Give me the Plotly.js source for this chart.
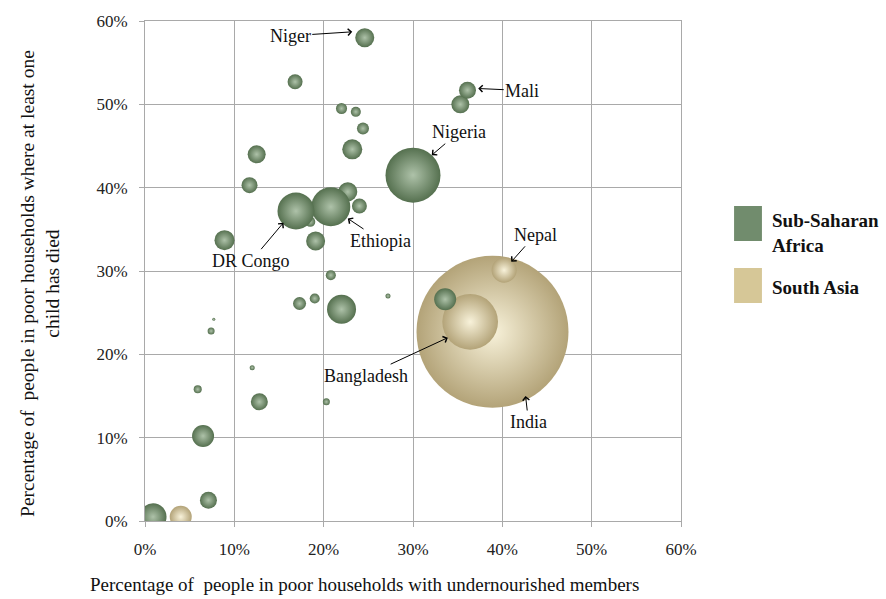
<!DOCTYPE html>
<html>
<head>
<meta charset="utf-8">
<script src="https://cdn.plot.ly/plotly-3.0.1.min.js"></script>
<style>html,body{margin:0;padding:0;background:#fff;}#chart{width:886px;height:599px;}</style>
</head>
<body>
<div id="chart"></div>
<script>
// Sub-Saharan Africa: % in poor households with undernourished members (x), % where at least one child has died (y), bubble size (poor population, est.)
const africaX    = [18.5, 22.7, 30.0, 20.8, 16.9, 22.0, 0.9, 6.5, 33.6, 23.2, 8.9, 24.6, 19.1, 12.5, 35.3, 36.1, 12.8, 7.1, 11.7, 16.8, 24.0, 17.3, 24.4, 22.0, 23.6, 20.8, 19.0, 5.9, 7.4, 20.3, 12.0, 27.2, 7.7];
const africaY    = [35.9, 39.5, 41.5, 37.7, 37.2, 25.4, 0.5, 10.2, 26.6, 44.6, 33.7, 58.0, 33.6, 44.0, 50.0, 51.7, 14.3, 2.5, 40.3, 52.7, 37.8, 26.1, 47.1, 49.5, 49.1, 29.5, 26.7, 15.8, 22.8, 14.3, 18.4, 27.0, 24.2];
const africaSize = [2.8, 10.0, 83.8, 42.1, 37.9, 23.3, 20.2, 13.4, 13.4, 11.1, 11.1, 10.0, 10.0, 9.0, 9.0, 8.0, 8.0, 8.0, 7.1, 6.2, 6.2, 4.7, 4.0, 3.4, 2.8, 2.8, 2.8, 1.8, 1.36, 1.36, 0.7, 0.7, 0.25];

// South Asia
const asiaX    = [38.9, 36.4, 40.2, 4.0];
const asiaY    = [22.7, 23.9, 30.1, 0.5];
const asiaSize = [640, 86, 17.3, 13.4];

// Country labels
const labelNames = ["Niger", "Mali", "Nigeria", "Ethiopia", "DR Congo", "Nepal", "Bangladesh", "India"];
const labelX  = [23.2, 37.3, 32.1, 22.7, 15.5, 41.0, 33.9, 42.6];
const labelY  = [58.7, 51.9, 43.9, 36.3, 35.8, 31.1, 22.0, 15.0];
const labelAX = [-62, 44, 27, 33, -32, 24, -82, 3];
const labelAY = [4, 2, -23, 22, 38, -27, 38, 26];

const tickVals = [0, 10, 20, 30, 40, 50, 60];
const tickText = ["0%", "10%", "20%", "30%", "40%", "50%", "60%"];

const xTitle = "Percentage of  people in poor households with undernourished members";
const yTitle = "Percentage of  people in poor households where at least one<br>child has died";

const seriesNames = ["Sub-Saharan<br>Africa", "South Asia"];
const seriesColors = ["#718c6d", "#d6c797"];

const maxD = 152;
const sizeref = 2 * Math.max(...asiaSize) / (maxD * maxD);
const FONT = "Liberation Serif, DejaVu Serif, serif";

const traces = [
  {
    type: "scatter", mode: "markers", name: "South Asia",
    x: asiaX, y: asiaY, hoverinfo: "x+y",
    marker: {size: asiaSize, sizemode: "area", sizeref: sizeref,
             color: "#b3a378", gradient: {type: "radial", color: "#f8f2da"},
             line: {width: 0}, opacity: 1},
    showlegend: false
  },
  {
    type: "scatter", mode: "markers", name: "Sub-Saharan Africa",
    x: africaX, y: africaY, hoverinfo: "x+y",
    marker: {size: africaSize, sizemode: "area", sizeref: sizeref,
             color: "#55704f", gradient: {type: "radial", color: "#aec2a9"},
             line: {width: 0}, opacity: 1},
    showlegend: false
  }
];

const annotations = labelNames.map((n, i) => ({
  x: labelX[i], y: labelY[i], xref: "x", yref: "y",
  text: n, showarrow: true, ax: labelAX[i], ay: labelAY[i],
  arrowhead: 4, arrowsize: 1.3, arrowwidth: 1, arrowcolor: "#000",
  font: {family: FONT, size: 18, color: "#111"}
}));

// axis titles (placed as in the reference, off-centre)
annotations.push({xref: "paper", yref: "paper", x: 0.41, y: -0.127,
  xanchor: "center", yanchor: "middle", showarrow: false, text: xTitle,
  font: {family: FONT, size: 19, color: "#111"}});
annotations.push({xref: "paper", yref: "paper", x: -0.196, y: 0.476,
  xanchor: "center", yanchor: "middle", showarrow: false, text: yTitle, textangle: -90,
  font: {family: FONT, size: 19.5, color: "#111"}});

// legend (drawn as paper shapes + text)
const legY = [[0.63, 0.56], [0.506, 0.436]];
const legTextY = [0.576, 0.468];
const shapes = [];
seriesNames.forEach((n, i) => {
  shapes.push({type: "rect", xref: "paper", yref: "paper",
    x0: 1.099, x1: 1.151, y0: legY[i][1], y1: legY[i][0],
    fillcolor: seriesColors[i], line: {width: 0}});
  annotations.push({xref: "paper", yref: "paper", x: 1.166, y: legTextY[i],
    xanchor: "left", yanchor: "middle", align: "left", showarrow: false,
    text: "<b>" + n + "</b>", font: {family: FONT, size: 19, color: "#111"}});
});

const axisCommon = {
  range: [0, 60], tickvals: tickVals, ticktext: tickText,
  showgrid: true, gridcolor: "#a9a9a9", gridwidth: 1,
  showline: true, linecolor: "#a9a9a9", linewidth: 1, mirror: true,
  ticks: "outside", ticklen: 5, tickcolor: "#a9a9a9",
  zeroline: false, fixedrange: true, ticklabelstandoff: 8,
  tickfont: {family: FONT, size: 17, color: "#222"}
};

const layout = {
  width: 886, height: 599,
  margin: {l: 145, r: 205, t: 21, b: 78},
  paper_bgcolor: "#fff", plot_bgcolor: "#fff",
  xaxis: Object.assign({}, axisCommon),
  yaxis: Object.assign({}, axisCommon),
  annotations: annotations,
  shapes: shapes,
  showlegend: false
};

Plotly.newPlot("chart", traces, layout, {displayModeBar: false, staticPlot: true});
</script>
</body>
</html>
